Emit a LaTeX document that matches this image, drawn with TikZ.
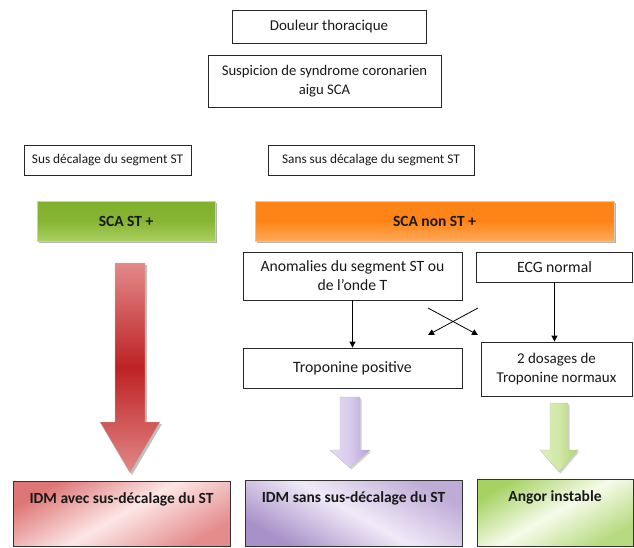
\documentclass[tikz,border=0pt]{standalone}
\usepackage{fontspec}
\setmainfont{Carlito}
\usetikzlibrary{shadows,arrows.meta}
\definecolor{txt}{RGB}{25,25,25}
\definecolor{gtop}{RGB}{128,176,44}
\definecolor{gbot}{RGB}{170,208,96}
\definecolor{otop}{RGB}{255,132,24}
\definecolor{obot}{RGB}{255,170,90}
\definecolor{rdark}{RGB}{190,34,36}
\definecolor{rlight}{RGB}{226,136,136}
\definecolor{pdark}{RGB}{184,160,216}
\definecolor{plight}{RGB}{230,220,244}
\definecolor{lgdark}{RGB}{176,214,112}
\definecolor{lglight}{RGB}{222,240,188}
\definecolor{bred}{RGB}{222,118,118}
\definecolor{bredl}{RGB}{253,230,230}
\definecolor{bpur}{RGB}{168,144,200}
\definecolor{bpurl}{RGB}{240,234,248}
\definecolor{bgrn}{RGB}{166,210,100}
\definecolor{bgrnl}{RGB}{246,251,234}
\newcommand{\fs}[1]{\fontsize{#1}{#1*1.23}\selectfont}
\tikzset{
  box/.style={draw=black!85, line width=0.8pt, fill=white, align=center, inner sep=2pt, text=txt, font=\fontsize{15}{18.5}\selectfont},
  band/.style={draw=black!20, line width=0.4pt, align=center, text=txt, font=\fontsize{15.5}{18}\selectfont\bfseries,
    drop shadow={shadow xshift=2pt, shadow yshift=-2pt, opacity=0.6}},
  result/.style={draw=black!80, line width=0.8pt, text=txt},
  reslabel/.style={anchor=north, yshift=-8pt, font=\fontsize{15.5}{18}\selectfont\bfseries, text=txt},
  conn/.style={draw=black, line width=0.8pt, -{Triangle[length=6pt,width=6pt]}},
  blockarrow/.style={draw=black!25, line width=0.3pt}
}
\begin{document}
\begin{tikzpicture}[x=1pt,y=-1pt]
\useasboundingbox (0,0) rectangle (634,548);
% top boxes
\node[box, minimum width=194pt, minimum height=33pt] (douleur) at (329,26.5) {Douleur thoracique};
\node[box, font=\fontsize{14.7}{18.5}\selectfont, minimum width=233pt, minimum height=52pt] (susp) at (324.5,81) {Suspicion de syndrome coronarien\\aigu SCA};
\node[box, font=\fontsize{13.3}{16}\selectfont, minimum width=167pt, minimum height=30pt] (sus) at (107.5,160) {Sus décalage du segment ST};
\node[box, font=\fontsize{13.3}{16}\selectfont, minimum width=206pt, minimum height=30pt] (sans) at (371,160) {Sans sus décalage du segment ST};
% coloured bands
\node[band, top color=gtop, bottom color=gbot, middle color=gtop!85!gbot, minimum width=178pt, minimum height=40pt] (stp) at (126,221) {SCA ST +};
\node[band, top color=otop, bottom color=obot, middle color=otop, minimum width=359pt, minimum height=40pt] (nonst) at (434.5,221) {SCA non ST +};
% middle boxes
\node[box, font=\fontsize{15.7}{19}\selectfont, minimum width=219pt, minimum height=48pt] (anom) at (352.5,276) {Anomalies du segment ST ou\\de l’onde T};
\node[box, font=\fontsize{15.7}{19}\selectfont, minimum width=156pt, minimum height=30pt] (ecg) at (554.5,267) {ECG normal};
\node[box, font=\fontsize{15.8}{19}\selectfont, minimum width=219pt, minimum height=40pt] (trop) at (352.5,368) {Troponine positive};
\node[box, minimum width=151pt, minimum height=54pt] (dos) at (556.5,369) {2 dosages de\\Troponine normaux};
% connectors
\draw[conn] (anom.south) -- (trop.north);
\draw[conn] (ecg.south) -- (ecg.south |- dos.north);
\coordinate (c1s) at (428,308);
\coordinate (c1e) at (478,335);
\coordinate (c2s) at (478,308);
\coordinate (c2e) at (428,335);
\draw[conn] (c1s) -- (c1e);
\draw[conn] (c2s) -- (c2e);
% bottom result boxes
\node[result, top color=bred, bottom color=bred!80!bredl, middle color=bredl, shading angle=30, minimum width=217pt, minimum height=65pt,
  label={[reslabel]north:IDM avec sus-décalage du ST}] (idm1) at (121.5,514) {};
\node[result, top color=bpur!70!bpurl, bottom color=bpur, middle color=bpurl, shading angle=-30, minimum width=217pt, minimum height=66pt,
  label={[reslabel]north:IDM sans sus-décalage du ST}] (idm2) at (353.5,513) {};
\node[result, top color=bgrn, bottom color=bgrn!80!bgrnl, middle color=bgrnl, shading angle=30, minimum width=156pt, minimum height=67pt,
  label={[reslabel]north:Angor instable}] (angor) at (555,512.5) {};
% block arrows
\path[blockarrow, top color=rlight, bottom color=rlight, middle color=rdark, drop shadow={shadow xshift=2pt, shadow yshift=-2pt, opacity=0.5}]
  (115,263) -- (145,263) -- (145,422) -- (160,422) -- (130,473) -- (100,422) -- (115,422) -- cycle;
\path[blockarrow, left color=plight, right color=pdark, middle color=plight!70!pdark, drop shadow={shadow xshift=1.5pt, shadow yshift=-1.5pt, opacity=0.35}]
  (340,397) -- (360,397) -- (360,450) -- (370,450) -- (350,468) -- (330,450) -- (340,450) -- cycle;
\path[blockarrow, left color=lglight, right color=lgdark, middle color=lglight!70!lgdark, drop shadow={shadow xshift=1.5pt, shadow yshift=-1.5pt, opacity=0.35}]
  (550,403) -- (568,403) -- (568,450) -- (578,450) -- (559,472) -- (540,450) -- (550,450) -- cycle;
\end{tikzpicture}
\end{document}
